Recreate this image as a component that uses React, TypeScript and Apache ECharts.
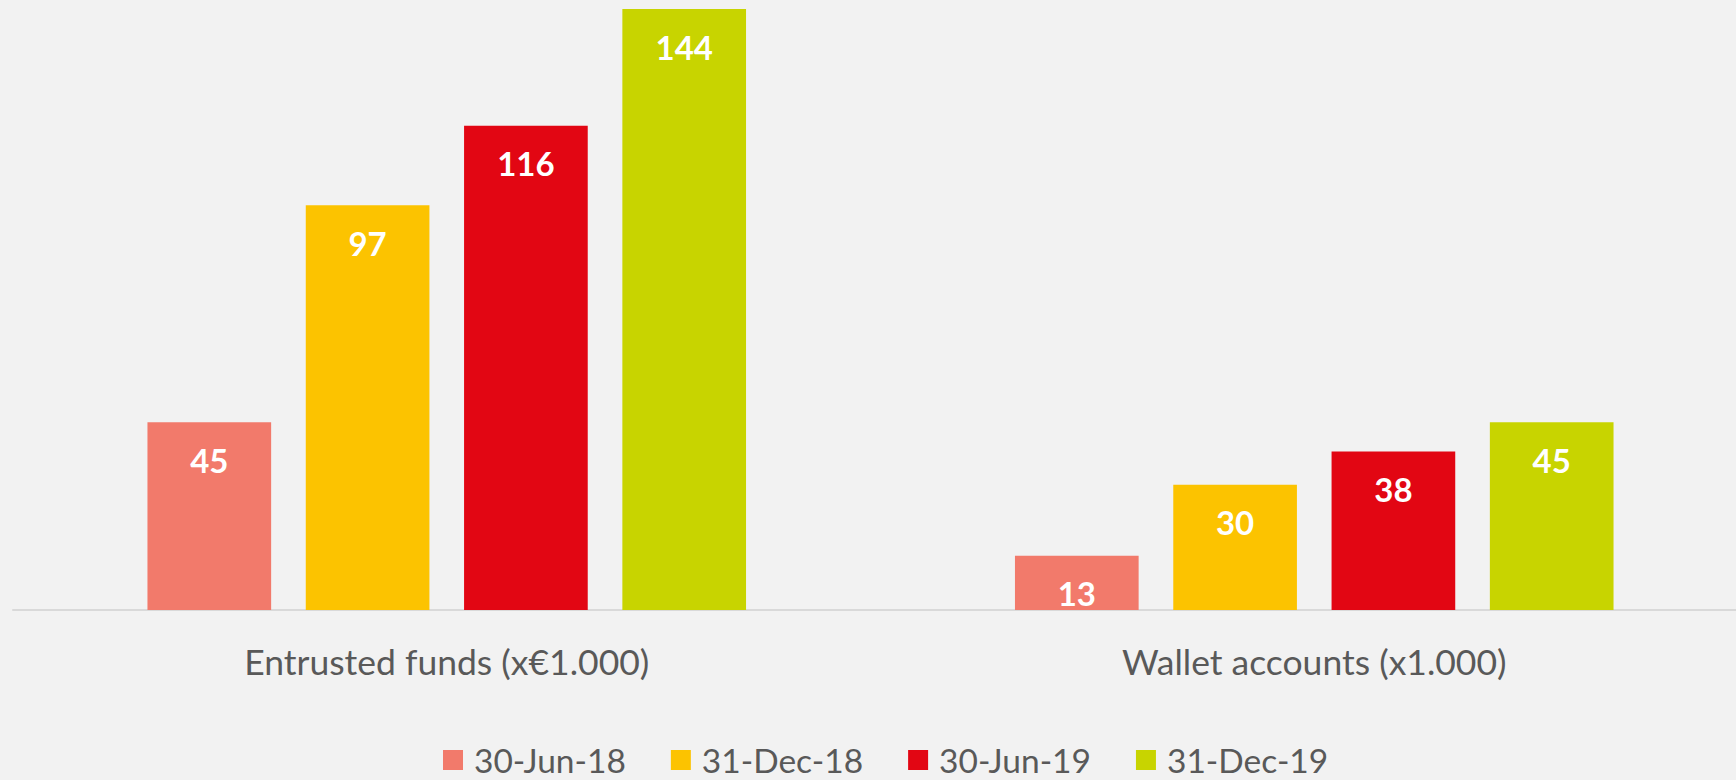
import React, { useEffect, useRef } from "react";
import * as echarts from "echarts";

const categories = ["Entrusted funds (x€1.000)", "Wallet accounts (x1.000)"];
const seriesNames = ["30-Jun-18", "31-Dec-18", "30-Jun-19", "31-Dec-19"];
const jun18 = [45, 13];
const dec18 = [97, 30];
const jun19 = [116, 38];
const dec19 = [144, 45];
const colors = ["#F27A6B", "#FCC300", "#E20613", "#C8D400"];

export default function App() {
  const ref = useRef<HTMLDivElement>(null);
  useEffect(() => {
    if (!ref.current) return;
    const chart = echarts.init(ref.current, undefined, { renderer: "svg" });
    const values = [jun18, dec18, jun19, dec19];
    chart.setOption({
      animation: false,
      backgroundColor: "#F2F2F2",
      textStyle: { fontFamily: "Lato" },
      grid: { left: 13, right: 2, top: 9, bottom: 170 },
      legend: {
        left: 438,
        top: 738,
        itemWidth: 20,
        itemHeight: 20,
        itemGap: 45,
        icon: "rect",
        textStyle: {
          fontSize: 33.5,
          lineHeight: 34,
          color: "#595959",
          fontFamily: "Lato",
          padding: [0, 0, 0, 6],
        },
        data: seriesNames,
      },
      xAxis: {
        type: "category",
        data: categories,
        axisLine: { lineStyle: { color: "#D9D9D9", width: 2 } },
        axisTick: { show: false },
        axisLabel: { fontSize: 35.5, color: "#595959", margin: 33, fontFamily: "Lato" },
      },
      yAxis: {
        type: "value",
        min: 0,
        max: 144,
        show: false,
        splitLine: { show: false },
      },
      series: seriesNames.map((name, i) => ({
        name,
        type: "bar",
        data: values[i],
        barGap: "28%",
        barCategoryGap: "31%",
        itemStyle: { color: colors[i] },
        label: {
          show: true,
          position: "insideTop",
          distance: 21,
          color: "#FFFFFF",
          fontWeight: "bold",
          fontSize: 33,
          fontFamily: "Lato",
        },
      })),
    });
    return () => chart.dispose();
  }, []);
  return (
    <div
      ref={ref}
      style={{ position: "fixed", left: 0, top: 0, width: 1750, height: 780 }}
    />
  );
}
